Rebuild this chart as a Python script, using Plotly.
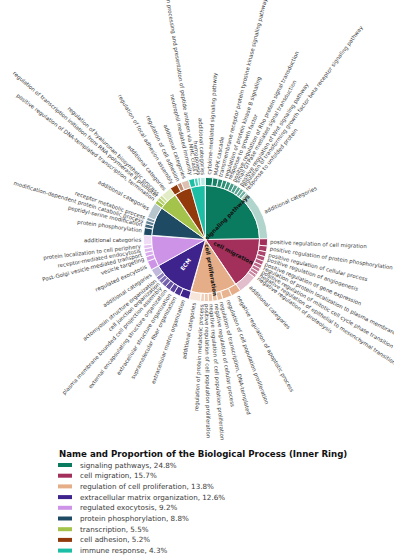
import math
import numpy as np
import plotly.graph_objects as go

# ---- inner ring: biological processes ----
categories = ["signaling pathways", "cell migration", "regulation of cell proliferation",
              "extracellular matrix organization", "regulated exocytosis",
              "protein phosphorylation", "transcription", "cell adhesion", "immune response"]
category_pct = [24.8, 15.7, 13.8, 12.6, 9.2, 8.8, 5.5, 5.2, 4.3]
category_colors = ["#0b7b5f", "#a3305b", "#e6ae88", "#3e238d", "#cd93e6",
                   "#1f4a63", "#a3c34a", "#923a0c", "#1cbfa6"]
center_labels = ["signaling pathways", "cell migration", "cell proliferation", "ECM",
                 "", "", "", "", ""]
center_label_colors = ["#111111", "#111111", "#111111", "#ffffff",
                       "#111111", "#111111", "#111111", "#111111", "#111111"]

# ---- outer ring: GO terms within each process ----
signaling_terms = ["cytokine-mediated signaling pathway", "MAPK cascade",
                   "transmembrane receptor protein tyrosine kinase signaling pathway",
                   "regulation of protein kinase B signaling", "response to growth factor",
                   "positive regulation of Rho protein signal transduction",
                   "small GTPase mediated signal transduction",
                   "positive regulation of Wnt signaling pathway",
                   "regulation of transforming growth factor beta receptor signaling pathway",
                   "response to unfolded protein", "additional categories"]
signaling_pct = [1.9, 1.4, 1.25, 1.1, 1.1, 1.0, 1.0, 0.9, 0.9, 0.85, 13.4]

migration_terms = ["positive regulation of cell migration",
                   "positive regulation of protein phosphorylation",
                   "positive regulation of cellular process",
                   "positive regulation of angiogenesis",
                   "positive regulation of gene expression",
                   "regulation of protein localization to plasma membrane",
                   "positive regulation of mitotic cell cycle phase transition",
                   "negative regulation of epithelial to mesenchymal transition",
                   "negative regulation of proteolysis", "additional categories"]
migration_pct = [1.9, 1.5, 1.3, 1.2, 1.1, 1.0, 0.95, 0.9, 0.85, 5.0]

proliferation_terms = ["negative regulation of apoptotic process",
                       "regulation of cell population proliferation",
                       "regulation of transcription, DNA-templated",
                       "negative regulation of cellular process",
                       "negative regulation of cell population proliferation",
                       "positive regulation of cell population proliferation",
                       "regulation of protein metabolic process", "additional categories"]
proliferation_pct = [2.55, 2.45, 1.4, 1.2, 1.15, 1.05, 1.0, 3.0]

ecm_terms = ["extracellular matrix organization", "supramolecular fiber organization",
             "extracellular structure organization",
             "external encapsulating structure organization",
             "plasma membrane bounded cell projection assembly",
             "cell junction organization", "actomyosin structure organization",
             "additional categories"]
ecm_pct = [2.5, 1.65, 1.4, 1.35, 1.25, 1.1, 1.05, 2.3]

exocytosis_terms = ["regulated exocytosis", "vesicle targeting",
                    "Post-Golgi vesicle-mediated transport", "receptor-mediated endocytosis",
                    "protein localization to cell periphery", "additional categories"]
exocytosis_pct = [2.4, 1.25, 1.1, 1.0, 0.95, 2.5]

phosphorylation_terms = ["protein phosphorylation", "peptidyl-serine modification",
                         "modification-dependent protein catabolic process",
                         "receptor metabolic process", "additional categories"]
phosphorylation_pct = [2.0, 1.0, 0.9, 0.85, 4.05]

transcription_terms = ["positive regulation of DNA-templated transcription, termination",
                       "regulation of transcription initiation from RNA polymerase II promoter",
                       "regulation of hyaluronan biosynthetic process", "additional categories"]
transcription_pct = [1.0, 0.9, 0.8, 2.8]

adhesion_terms = ["regulation of focal adhesion assembly", "regulation of cell adhesion",
                  "additional categories"]
adhesion_pct = [2.05, 1.15, 2.0]

immune_terms = ["neutrophil mediated immunity",
                "antigen processing and presentation of peptide antigen via MHC class I",
                "hemopoiesis", "additional categories"]
immune_pct = [1.5, 0.9, 0.7, 1.2]

sub_terms = [signaling_terms, migration_terms, proliferation_terms, ecm_terms,
             exocytosis_terms, phosphorylation_terms, transcription_terms,
             adhesion_terms, immune_terms]
sub_pct = [signaling_pct, migration_pct, proliferation_pct, ecm_pct, exocytosis_pct,
           phosphorylation_pct, transcription_pct, adhesion_pct, immune_pct]

legend_title = "Name and Proportion of the Biological Process (Inner Ring)"

# ---- page geometry (pixels) ----
W, H = 394, 559
CX, CY = 205.5, 239.5          # pie centre on the page
UNIT = 54.0                     # pixels per unit radius
R_INNER, R_OUTER, R_LABEL = 1.0, 1.15, 1.2
FONT = "DejaVu Sans"
LABEL_SIZE = 5.45
LABEL_COLOR = "#3a3a3a"


def lighten(hex_color, t):
    r, g, b = (int(hex_color[i:i + 2], 16) for i in (1, 3, 5))
    mix = lambda c: int(round(c + (255 - c) * t))
    return f"rgb({mix(r)},{mix(g)},{mix(b)})"


def arc(r, a0, a1):
    n = max(6, int(abs(a1 - a0) * 2))
    ang = np.radians(np.linspace(a0, a1, n))
    return r * np.cos(ang), r * np.sin(ang)


def radial_textangle(phi):
    """Plotly textangle (clockwise degrees) for text running along angle phi."""
    if math.cos(math.radians(phi)) >= 0:
        return -phi
    a = 180 - phi
    while a > 180:
        a -= 360
    while a <= -180:
        a += 360
    return a


fig = go.Figure()
annotations = []


def wedge(r0, r1, a0, a1, color):
    xo, yo = arc(r1, a0, a1)
    if r0 == 0:
        xs = np.concatenate([[0], xo, [0]])
        ys = np.concatenate([[0], yo, [0]])
    else:
        xi, yi = arc(r0, a1, a0)
        xs = np.concatenate([xo, xi, xo[:1]])
        ys = np.concatenate([yo, yi, yo[:1]])
    fig.add_trace(go.Scatter(x=xs, y=ys, mode="lines", fill="toself", fillcolor=color,
                             line=dict(color="white", width=0.9),
                             hoverinfo="skip", showlegend=False))


text_h = LABEL_SIZE * 1.3 / UNIT
cum = 0.0
for ci, cat in enumerate(categories):
    a0 = 90 - cum * 3.6
    a1 = 90 - (cum + category_pct[ci]) * 3.6
    wedge(0, R_INNER, a0, a1, category_colors[ci])

    if center_labels[ci]:
        mid = (a0 + a1) / 2
        annotations.append(dict(
            x=0.58 * math.cos(math.radians(mid)), y=0.58 * math.sin(math.radians(mid)),
            xref="x", yref="y", text=f"<b>{center_labels[ci]}</b>", showarrow=False,
            textangle=radial_textangle(mid), xanchor="center", yanchor="middle",
            font=dict(family=FONT, size=5.6, color=center_label_colors[ci]),
            borderpad=0, borderwidth=0))

    terms, pcts = sub_terms[ci], sub_pct[ci]
    n_named = len(terms) - 1
    sub_cum = cum
    for si, (term, p) in enumerate(zip(terms, pcts)):
        s0 = 90 - sub_cum * 3.6
        s1 = 90 - (sub_cum + p) * 3.6
        sub_cum += p
        if term == "additional categories":
            shade = lighten(category_colors[ci], 0.68)
        else:
            shade = lighten(category_colors[ci], 0.42 * si / max(n_named - 1, 1))
        wedge(R_INNER, R_OUTER, s0, s1, shade)

        phi = (s0 + s1) / 2
        c, s = math.cos(math.radians(phi)), math.sin(math.radians(phi))
        px, py = R_LABEL * c, R_LABEL * s
        sx = 1 if c >= 0 else -1
        sy = 1 if s >= 0 else -1
        annotations.append(dict(
            x=px - sx * (text_h / 2) * abs(s), y=py - sy * (text_h / 2) * abs(c),
            xref="x", yref="y", text=term, showarrow=False,
            textangle=radial_textangle(phi),
            xanchor="left" if sx > 0 else "right",
            yanchor="bottom" if sy > 0 else "top",
            font=dict(family=FONT, size=LABEL_SIZE, color=LABEL_COLOR),
            borderpad=0, borderwidth=0))
    cum += category_pct[ci]

# ---- legend drawn as swatches and text rows ----
shapes = []
LEG_TOP, LEG_STEP = 465.0, 10.7
annotations.append(dict(
    x=57 / W, y=1 - 454 / H, xref="paper", yref="paper", text=f"<b>{legend_title}</b>",
    showarrow=False, xanchor="left", yanchor="middle",
    font=dict(family=FONT, size=8.65, color="#111111")))
for ci, cat in enumerate(categories):
    yc = LEG_TOP + ci * LEG_STEP
    shapes.append(dict(type="rect", xref="paper", yref="paper",
                       x0=58 / W, x1=72 / W, y0=1 - (yc + 2) / H, y1=1 - (yc - 2) / H,
                       fillcolor=category_colors[ci], line=dict(width=0)))
    annotations.append(dict(
        x=78 / W, y=1 - yc / H, xref="paper", yref="paper",
        text=f"{cat}, {category_pct[ci]}%", showarrow=False,
        xanchor="left", yanchor="middle",
        font=dict(family=FONT, size=7.2, color=LABEL_COLOR)))

fig.update_layout(
    width=W, height=H, margin=dict(l=0, r=0, t=0, b=0),
    paper_bgcolor="white", plot_bgcolor="white",
    font=dict(family=FONT, color=LABEL_COLOR),
    xaxis=dict(range=[-CX / UNIT, (W - CX) / UNIT], visible=False, fixedrange=True,
               domain=[0, 1]),
    yaxis=dict(range=[-(H - CY) / UNIT, CY / UNIT], visible=False, fixedrange=True,
               domain=[0, 1]),
    annotations=annotations, shapes=shapes, showlegend=False,
)

fig.write_html("out.html")
